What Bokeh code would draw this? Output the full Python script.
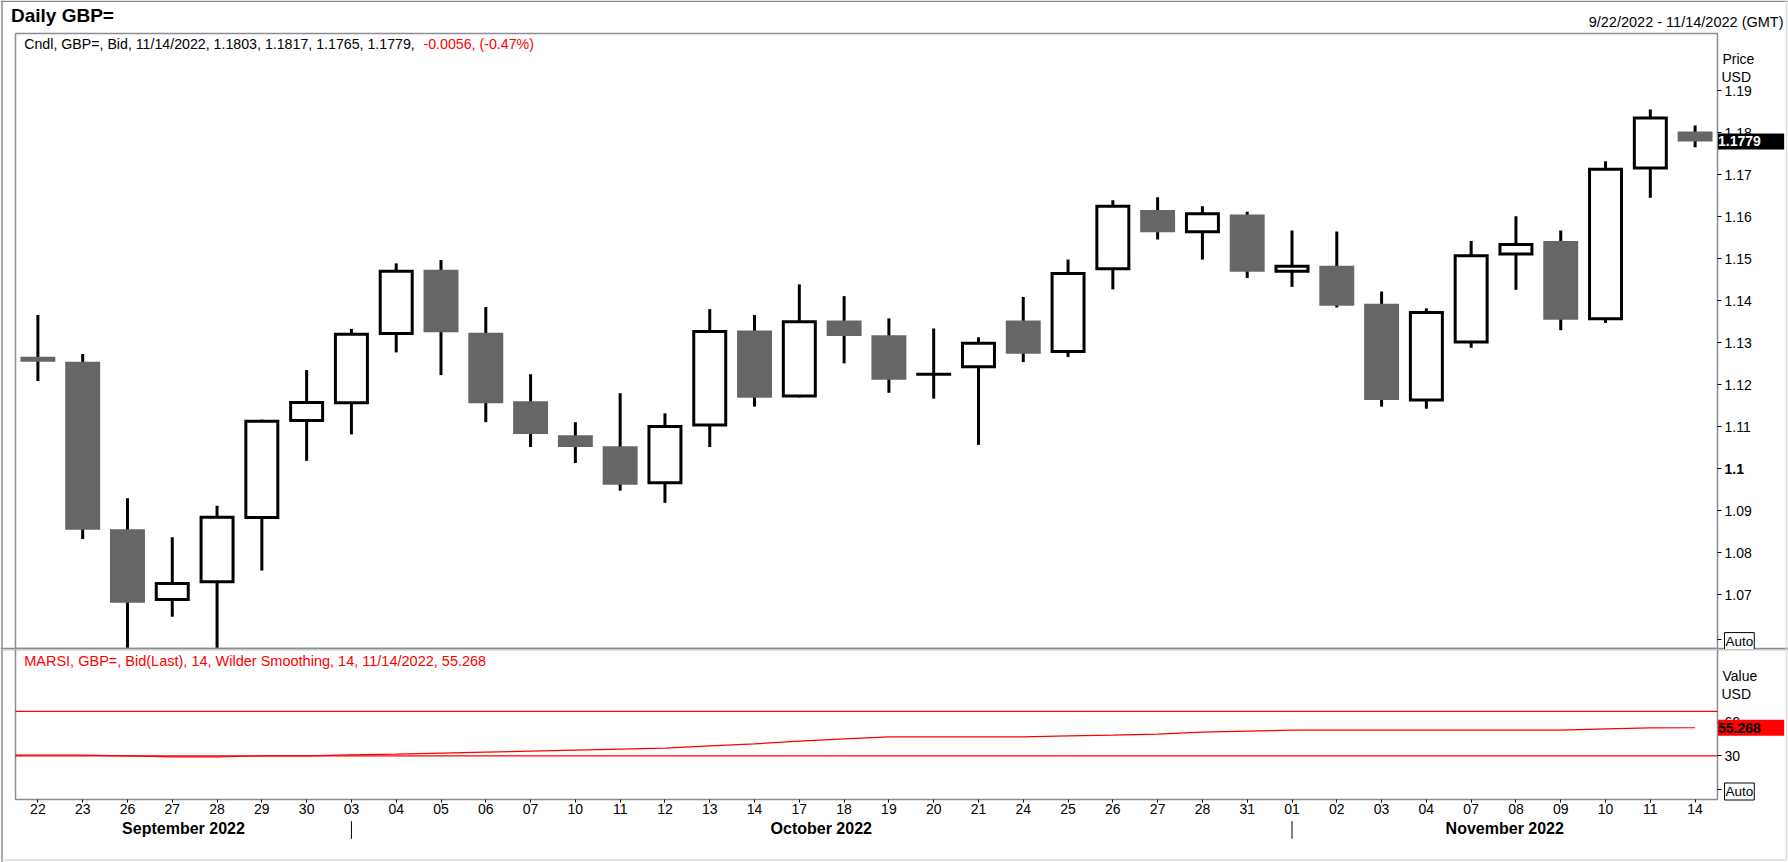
from bokeh.plotting import figure
from bokeh.models import Range1d, LinearAxis, FixedTicker, Label
from bokeh.layouts import column
from bokeh.embed import file_html
from bokeh.resources import INLINE

# ---------------- data ----------------
day_labels = ["22", "23", "26", "27", "28", "29", "30",
              "03", "04", "05", "06", "07", "10", "11", "12", "13", "14", "17", "18", "19",
              "20", "21", "24", "25", "26", "27", "28", "31",
              "01", "02", "03", "04", "07", "08", "09", "10", "11", "14"]
month_names = ["September 2022", "October 2022", "November 2022"]
month_of_day = [0] * 7 + [1] * 21 + [2] * 10

open_px = [1.1267, 1.1255, 1.0856, 1.0689, 1.0731, 1.0884, 1.1115,
           1.1157, 1.1322, 1.1474, 1.1324, 1.1161, 1.1080, 1.1054, 1.0967, 1.1104, 1.1329, 1.1173, 1.1353, 1.1318,
           1.1225, 1.1243, 1.1353, 1.1279, 1.1476, 1.1616, 1.1564, 1.1605,
           1.1470, 1.1483, 1.1393, 1.1164, 1.1302, 1.1511, 1.1542, 1.1357, 1.1716, 1.1803]
high_px = [1.1366, 1.1273, 1.0930, 1.0837, 1.0912, 1.1117, 1.1235,
           1.1333, 1.1489, 1.1497, 1.1385, 1.1225, 1.1111, 1.1180, 1.1132, 1.1380, 1.1366, 1.1439, 1.1411, 1.1358,
           1.1334, 1.1313, 1.1409, 1.1498, 1.1639, 1.1646, 1.1625, 1.1612,
           1.1567, 1.1565, 1.1422, 1.1382, 1.1542, 1.1601, 1.1567, 1.1732, 1.1855, 1.1817]
low_px = [1.1209, 1.0833, 1.0350, 1.0648, 1.0540, 1.0758, 1.1019,
          1.1082, 1.1277, 1.1223, 1.1111, 1.1052, 1.1014, 1.0948, 1.0919, 1.1052, 1.1148, 1.1170, 1.1251, 1.1181,
          1.1167, 1.1057, 1.1254, 1.1266, 1.1427, 1.1546, 1.1498, 1.1454,
          1.1433, 1.1384, 1.1148, 1.1143, 1.1288, 1.1426, 1.1330, 1.1347, 1.1645, 1.1765]
close_px = [1.1255, 1.0855, 1.0681, 1.0727, 1.0885, 1.1113, 1.1158,
            1.1320, 1.1470, 1.1325, 1.1156, 1.1083, 1.1052, 1.0962, 1.1101, 1.1327, 1.1169, 1.1350, 1.1316, 1.1212,
            1.1225, 1.1299, 1.1274, 1.1465, 1.1625, 1.1563, 1.1607, 1.1469,
            1.1482, 1.1388, 1.1164, 1.1372, 1.1507, 1.1534, 1.1355, 1.1713, 1.1835, 1.1779]
rsi_vals = [30.6, 30.6, 30.0, 29.1, 29.1, 30.0, 30.0,
            30.9, 31.5, 32.4, 33.3, 34.2, 35.1, 36.0, 36.9, 39.0, 40.8, 43.2, 45.3, 47.1,
            47.1, 47.1, 47.1, 48.0, 48.6, 49.5, 51.3, 52.2,
            53.1, 53.1, 53.1, 53.1, 53.1, 53.1, 53.1, 54.3, 55.2, 55.268]
price_ticks = [1.07, 1.08, 1.09, 1.10, 1.11, 1.12, 1.13, 1.14, 1.15, 1.16, 1.17, 1.18, 1.19]
bold_price_tick = 1.10
rsi_ticks = [30, 60]
rsi_bands = [70, 30]

# ---------------- geometry (canvas pixels) ----------------
FONT = "Liberation Sans"
N = len(day_labels)
idx = list(range(N))
W, H = 1788, 862
FR_L, FR_R = 15, 1717            # panel left / right edge
P_TOP, P_BOT = 33, 649           # price panel
R_TOP, R_BOT = 649, 799          # RSI panel
X_LO, X_HI = -0.5, N - 0.5       # data span of the panels
PRICE_LO, PRICE_HI = 1.0570, 1.2036
RSI_LO, RSI_HI = -9.2, 125.6


def xd(px):
    return X_LO + (px - FR_L) / (FR_R - FR_L) * (X_HI - X_LO)


def yp(py):
    return PRICE_HI - (py - P_TOP) / (P_BOT - P_TOP) * (PRICE_HI - PRICE_LO)


def yr(py):
    return RSI_HI - (py - R_TOP) / (R_BOT - R_TOP) * (RSI_HI - RSI_LO)


x_range = Range1d(xd(0), xd(W))
p_range = Range1d(yp(P_BOT), yp(0))
r_range = Range1d(yr(H), yr(R_TOP))

FRAME_C = "#8c8c99"


def lab(fig, x, y, text, size="14px", color="black", style="normal", align="left", **kw):
    fig.add_layout(Label(x=x, y=y, text=text, text_font=FONT, text_font_size=size,
                         text_color=color, text_font_style=style, text_align=align,
                         text_baseline="middle", **kw))


def base_fig(height, yrng):
    f = figure(width=W, height=height, x_range=x_range, y_range=yrng,
               output_backend="svg", toolbar_location=None, title=None,
               x_axis_location=None, y_axis_location=None,
               min_border=0, min_border_left=0, min_border_right=0,
               min_border_top=0, min_border_bottom=0)
    f.grid.grid_line_color = None
    f.outline_line_color = None
    f.background_fill_color = "white"
    f.border_fill_color = "white"
    return f


def style_axis(ax, tick_out):
    ax.axis_line_color = None
    ax.major_tick_out = tick_out
    ax.major_tick_in = 0
    ax.major_tick_line_color = "black"
    ax.minor_tick_line_color = None
    ax.major_label_text_font = FONT
    ax.major_label_text_font_size = "14px"
    ax.major_label_text_color = "black"


# ---------------- price panel ----------------
p = base_fig(P_BOT, p_range)

up = [i for i in idx if close_px[i] > open_px[i]]
dn = [i for i in idx if close_px[i] < open_px[i]]
dj = [i for i in idx if close_px[i] == open_px[i]]

p.segment(x0=idx, y0=low_px, x1=idx, y1=high_px, line_color="black", line_width=3, line_cap="butt")
p.vbar(x=dn, width=0.78, top=[open_px[i] for i in dn], bottom=[close_px[i] for i in dn],
       fill_color="#666666", line_color=None)
p.vbar(x=up, width=0.714, top=[close_px[i] for i in up], bottom=[open_px[i] for i in up],
       fill_color="white", line_color="black", line_width=3, line_join="miter")
p.rect(x=dj, y=[open_px[i] for i in dj], width=0.78, height=3, height_units="screen",
       fill_color="black", line_color=None)

# panel frame + separator
p.quad(left=xd(FR_L), right=xd(FR_R), top=yp(P_TOP), bottom=yp(P_BOT - 1),
       fill_color=None, line_color=FRAME_C, line_width=1.5)
p.segment(x0=[xd(0)], y0=[yp(P_BOT - 1)], x1=[xd(W)], y1=[yp(P_BOT - 1)],
          line_color=FRAME_C, line_width=1.5)

auto_p = yp(638.5)
pax = LinearAxis(fixed_location=xd(FR_R), ticker=FixedTicker(ticks=price_ticks + [auto_p]))
ov = {t: f"{t:.2f}" for t in price_ticks}
ov[bold_price_tick] = " "
ov[auto_p] = " "
pax.major_label_overrides = ov
pax.major_label_standoff = 3
style_axis(pax, 4)
p.add_layout(pax, "right")

lab(p, xd(1724), bold_price_tick, f"{bold_price_tick:g}", style="bold")
lab(p, xd(1722), yp(58.3), "Price")
lab(p, xd(1721), yp(76), "USD")
lab(p, xd(1724), yp(640.6), "Auto", size="13.5px", background_fill_color="white",
    border_line_color="black", border_line_width=1, padding=1)
lab(p, xd(1717.5), close_px[-1], f"{close_px[-1]:.4f}" + "\u00a0" * 6, style="bold",
    color="white", background_fill_color="black", padding=0)

chg = close_px[-1] - close_px[-2]
pct = chg / close_px[-2] * 100
lab(p, xd(23.7), yp(43),
    f"Cndl, GBP=, Bid, 11/14/2022, {open_px[-1]:.4f}, {high_px[-1]:.4f}, {low_px[-1]:.4f}, {close_px[-1]:.4f}, ",
    size="14.2px")
lab(p, xd(423), yp(43), f"{chg:.4f}, ({pct:.2f}%)", size="14.2px", color="#ff0000")
lab(p, xd(10.5), yp(15), "Daily GBP=", size="19px", style="bold")
lab(p, xd(1783), yp(21.7), "9/22/2022 - 11/14/2022 (GMT)", size="14.5px", align="right")

# window border
p.segment(x0=[xd(0)], y0=[yp(0.7)], x1=[xd(W)], y1=[yp(0.7)], line_color="#8a8a8a", line_width=1.5)
p.segment(x0=[xd(1.5)], y0=[yp(0)], x1=[xd(1.5)], y1=[yp(P_BOT)], line_color="#8a8a8a", line_width=1.5)
p.segment(x0=[xd(1786)], y0=[yp(0)], x1=[xd(1786)], y1=[yp(P_BOT)], line_color="#dedede", line_width=1.5)

# ---------------- RSI panel ----------------
r = base_fig(H - R_TOP, r_range)

r.quad(left=xd(FR_L), right=xd(FR_R), top=yr(R_TOP - 2), bottom=yr(R_BOT),
       fill_color=None, line_color=FRAME_C, line_width=1.5)
r.segment(x0=[xd(0)], y0=[yr(R_TOP)], x1=[xd(W)], y1=[yr(R_TOP)], line_color=FRAME_C, line_width=1.5)

r.segment(x0=[xd(FR_L)] * len(rsi_bands), y0=rsi_bands, x1=[xd(FR_R)] * len(rsi_bands), y1=rsi_bands,
          line_color="#ff0000", line_width=1.3)
# RSI line, held flat from the panel's left edge to the first session
r.line([X_LO] + idx, [rsi_vals[0]] + rsi_vals, line_color="#ff0000", line_width=1.2)

auto_r = yr(789.3)
rax = LinearAxis(fixed_location=xd(FR_R), ticker=FixedTicker(ticks=rsi_ticks + [auto_r]))
rax.major_label_overrides = {**{t: f"{t}" for t in rsi_ticks}, auto_r: " "}
rax.major_label_standoff = 3
style_axis(rax, 4)
r.add_layout(rax, "right")

lab(r, xd(1722), yr(675), "Value")
lab(r, xd(1721), yr(693), "USD")
lab(r, xd(1724), yr(791), "Auto", size="13.5px", background_fill_color="white",
    border_line_color="black", border_line_width=1, padding=1)
lab(r, xd(1717.5), rsi_vals[-1], f"{rsi_vals[-1]:.3f}" + "\u00a0" * 6, style="bold",
    color="black", background_fill_color="#ff0000", padding=0)
lab(r, xd(23.7), yr(660),
    f"MARSI, GBP=, Bid(Last),  14, Wilder Smoothing, 14, 11/14/2022, {rsi_vals[-1]:.3f}",
    size="14.5px", color="#ff0000")

xax = LinearAxis(fixed_location=yr(R_BOT), ticker=FixedTicker(ticks=idx))
xax.major_label_overrides = {i: day_labels[i] for i in idx}
xax.major_label_standoff = 1
style_axis(xax, 3)
r.add_layout(xax, "below")

month_label_x = [3.25, 17.49, 32.75]
for m, name in enumerate(month_names):
    lab(r, month_label_x[m], yr(828.3), name, size="16px", style="bold", align="center")
sep = [i for i in range(1, N) if month_of_day[i] != month_of_day[i - 1]]
r.segment(x0=sep, y0=[yr(820.7)] * len(sep), x1=sep, y1=[yr(838.3)] * len(sep),
          line_color="black", line_width=1)

# window border
r.segment(x0=[xd(1.5)], y0=[yr(R_TOP)], x1=[xd(1.5)], y1=[yr(H)], line_color="#8a8a8a", line_width=1.5)
r.segment(x0=[xd(1786)], y0=[yr(R_TOP)], x1=[xd(1786)], y1=[yr(859.5)], line_color="#dedede", line_width=1.5)
r.segment(x0=[xd(1.5)], y0=[yr(859.5)], x1=[xd(1786)], y1=[yr(859.5)], line_color="#dedede", line_width=1.5)

layout = column(p, r, spacing=0)
open("out.html", "w").write(file_html(layout, INLINE))
